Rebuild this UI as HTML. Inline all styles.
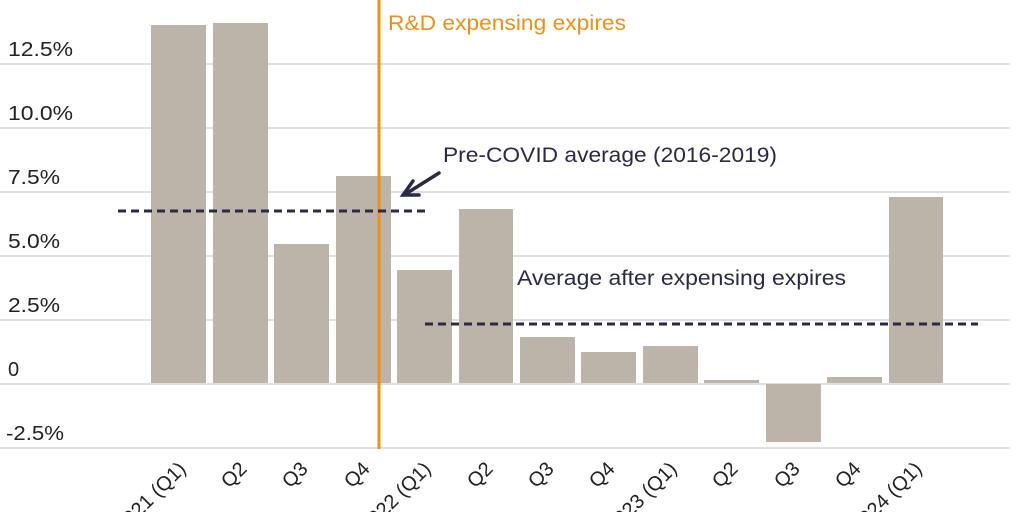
<!DOCTYPE html>
<html><head><style>body{margin:0;background:#fff}svg{display:block}</style></head>
<body>
<svg width="1024" height="512" xmlns="http://www.w3.org/2000/svg" font-family="Liberation Sans, sans-serif">
<g stroke="#d6d6d6" stroke-width="1.5">
<line x1="0" x2="1010" y1="64" y2="64"/><line x1="0" x2="1010" y1="128" y2="128"/>
<line x1="0" x2="1010" y1="192" y2="192"/><line x1="0" x2="1010" y1="256" y2="256"/>
<line x1="0" x2="1010" y1="320" y2="320"/><line x1="0" x2="1010" y1="384" y2="384"/>
<line x1="0" x2="1010" y1="448" y2="448"/>
</g>
<g font-size="20" fill="#222">
<text x="8" y="56" textLength="65" lengthAdjust="spacingAndGlyphs">12.5%</text><text x="8" y="120" textLength="65" lengthAdjust="spacingAndGlyphs">10.0%</text><text x="8" y="184" textLength="52" lengthAdjust="spacingAndGlyphs">7.5%</text>
<text x="8" y="248" textLength="52" lengthAdjust="spacingAndGlyphs">5.0%</text><text x="8" y="312" textLength="52" lengthAdjust="spacingAndGlyphs">2.5%</text><text x="8" y="376">0</text>
<text x="6" y="440" textLength="58" lengthAdjust="spacingAndGlyphs">-2.5%</text>
</g>
<g fill="#bcb4a9">
<rect x="151" y="25" width="55" height="358"/>
<rect x="213" y="23" width="55" height="360"/>
<rect x="274" y="244" width="55" height="139"/>
<rect x="336" y="176" width="55" height="207"/>
<rect x="397" y="270" width="55" height="113"/>
<rect x="459" y="209" width="54" height="174"/>
<rect x="520" y="337" width="55" height="46"/>
<rect x="581" y="352" width="55" height="31"/>
<rect x="643" y="346" width="55" height="37"/>
<rect x="704" y="380" width="55" height="3"/>
<rect x="766" y="384" width="55" height="58"/>
<rect x="827" y="377" width="55" height="6"/>
<rect x="889" y="197" width="54" height="186"/>
</g>
<line x1="379" x2="379" y1="0" y2="449" stroke="#f0900f" stroke-width="3"/>
<text x="388" y="30" font-size="21" fill="#f0900f" textLength="238" lengthAdjust="spacingAndGlyphs">R&amp;D expensing expires</text>
<g stroke="#2a2a45" stroke-width="3" stroke-dasharray="8,5">
<line x1="118" x2="425" y1="211" y2="211"/>
<line x1="425" x2="978" y1="324" y2="324"/>
</g>
<g stroke="#2a2a45" stroke-width="3.5" fill="none" stroke-linecap="round">
<line x1="439" y1="173" x2="404" y2="195"/>
<polyline points="413,181 403,195 419,195"/>
</g>
<g font-size="21" fill="#2a2a45">
<text x="443" y="162" textLength="334" lengthAdjust="spacingAndGlyphs">Pre-COVID average (2016-2019)</text>
<text x="517" y="285" textLength="329" lengthAdjust="spacingAndGlyphs">Average after expensing expires</text>
</g>
<g font-size="20" fill="#222" text-anchor="end">
<text transform="translate(187,470) rotate(-45)">2021 (Q1)</text>
<text transform="translate(248,470) rotate(-45)">Q2</text>
<text transform="translate(309,470) rotate(-45)">Q3</text>
<text transform="translate(371,470) rotate(-45)">Q4</text>
<text transform="translate(432,470) rotate(-45)">2022 (Q1)</text>
<text transform="translate(494,470) rotate(-45)">Q2</text>
<text transform="translate(555,470) rotate(-45)">Q3</text>
<text transform="translate(616,470) rotate(-45)">Q4</text>
<text transform="translate(678,470) rotate(-45)">2023 (Q1)</text>
<text transform="translate(739,470) rotate(-45)">Q2</text>
<text transform="translate(801,470) rotate(-45)">Q3</text>
<text transform="translate(862,470) rotate(-45)">Q4</text>
<text transform="translate(923,470) rotate(-45)">2024 (Q1)</text>
</g>
</svg>
</body></html>
